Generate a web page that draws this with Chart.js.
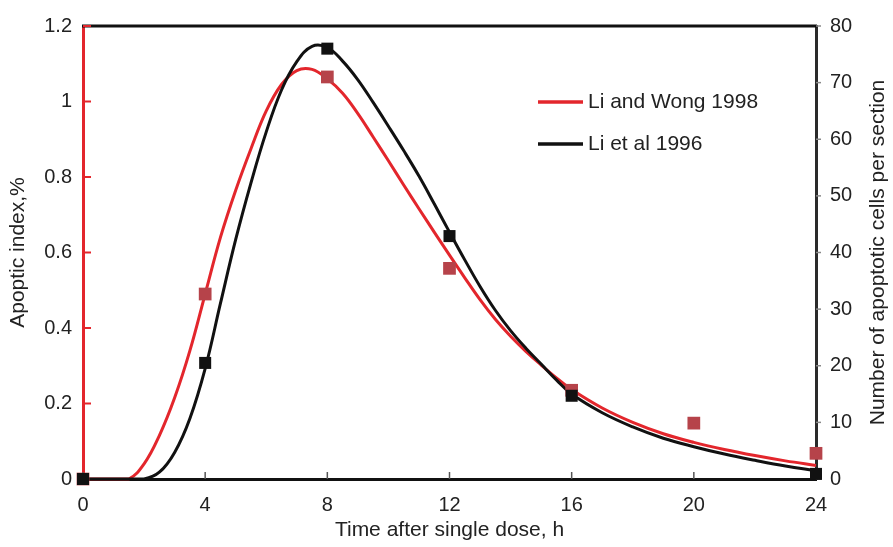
<!DOCTYPE html>
<html><head><meta charset="utf-8">
<script src="https://cdn.jsdelivr.net/npm/chart.js@4.4.1/dist/chart.umd.min.js"></script>
<style>html,body{margin:0;padding:0;background:#fff;}#wrap{width:893px;height:547px;position:relative;}</style>
</head><body><div id="wrap"><canvas id="c" width="893" height="547"></canvas></div>
<script>
// ---- data ----
const hourTicks = [0, 4, 8, 12, 16, 20, 24];
const indexTicks = [0, 0.2, 0.4, 0.6, 0.8, 1, 1.2];
const countTicks = [0, 10, 20, 30, 40, 50, 60, 70, 80];
const seriesNames = ['Li and Wong 1998', 'Li et al 1996'];
const axisTitles = ['Time after single dose, h', 'Apoptic index,%', 'Number of apoptotic cells per section'];

// measured points
const wongHours = [0, 4, 8, 12, 16, 20, 24];
const wongIndex = [0, 0.49, 1.065, 0.558, 0.235, 0.148, 0.068];
const li96Hours = [0, 4, 8, 12, 16, 24];
const li96Counts = [0, 20.5, 76, 42.9, 14.7, 0.9];

// fitted curves
const fitHours = [0, 0.5, 1, 1.5, 2, 2.5, 3, 3.5, 4, 4.5, 5, 5.5, 6, 6.5, 7, 7.5, 8, 8.5, 9, 9.5, 10, 10.5, 11, 11.5, 12, 12.5, 13, 13.5, 14, 14.5, 15, 15.5, 16, 17, 18, 19, 20, 21, 22, 23, 24];
const wongFitIndex = [0, 0, 0, 0, 0.04, 0.115, 0.215, 0.34, 0.49, 0.64, 0.765, 0.875, 0.975, 1.045, 1.082, 1.085, 1.06, 1.022, 0.968, 0.906, 0.843, 0.779, 0.716, 0.654, 0.593, 0.533, 0.475, 0.423, 0.378, 0.338, 0.302, 0.268, 0.237, 0.188, 0.15, 0.12, 0.097, 0.078, 0.062, 0.048, 0.036];
const li96FitCounts = [0, 0, 0, 0, 0, 1.2, 4.7, 10.7, 19.5, 31.0, 42.3, 52.3, 61.3, 68.7, 73.7, 76.4, 76.2, 73.8, 70.5, 66.5, 62.3, 58.0, 53.5, 48.6, 43.6, 38.7, 34.0, 29.8, 26.2, 23.1, 20.3, 17.5, 15.0, 11.7, 9.2, 7.2, 5.7, 4.4, 3.3, 2.3, 1.5];

const RED = '#e3262c';
const RED_PT = '#b6434a';
const BLACK = '#111111';
const TXT = '#222222';
const zip = (xs, ys) => xs.map((x, i) => ({x, y: ys[i]}));

const frame = {
  id: 'frame',
  beforeDatasetsDraw(chart) {
    const {ctx, chartArea: a, scales} = chart;
    ctx.save();
    ctx.strokeStyle = BLACK; ctx.lineWidth = 3;
    ctx.beginPath(); ctx.moveTo(a.left - 1, a.top); ctx.lineTo(a.right + 1, a.top); ctx.stroke();
    ctx.strokeStyle = RED; ctx.lineWidth = 2;
    indexTicks.forEach(v => { const y = scales.y.getPixelForValue(v);
      ctx.beginPath(); ctx.moveTo(a.left, y); ctx.lineTo(a.left + 8, y); ctx.stroke(); });
    ctx.strokeStyle = '#555'; ctx.lineWidth = 1.5;
    hourTicks.forEach(v => { const x = scales.x.getPixelForValue(v);
      ctx.beginPath(); ctx.moveTo(x, a.bottom); ctx.lineTo(x, a.bottom - 7); ctx.stroke(); });
    ctx.strokeStyle = '#888'; ctx.lineWidth = 1.5;
    countTicks.forEach(v => { const y = scales.y2.getPixelForValue(v);
      ctx.beginPath(); ctx.moveTo(a.right, y); ctx.lineTo(a.right + 5, y); ctx.stroke(); });
    ctx.fillStyle = TXT; ctx.font = '21px "Liberation Sans", Arial, sans-serif';
    ctx.translate(878, (a.top + a.bottom) / 2); ctx.rotate(-Math.PI / 2);
    ctx.textAlign = 'center'; ctx.textBaseline = 'middle';
    ctx.fillText(axisTitles[2], 0, 0);
    ctx.restore();
  },
  afterDatasetsDraw(chart) {
    const {ctx, chartArea: a} = chart;
    ctx.save();
    const rows = [{c: RED, y: a.top + 76, t: seriesNames[0]}, {c: BLACK, y: a.top + 118, t: seriesNames[1]}];
    ctx.font = '21px "Liberation Sans", Arial, sans-serif';
    ctx.textBaseline = 'middle'; ctx.textAlign = 'left';
    rows.forEach(r => {
      ctx.strokeStyle = r.c; ctx.lineWidth = 3.5;
      ctx.beginPath(); ctx.moveTo(a.left + 455, r.y); ctx.lineTo(a.left + 500, r.y); ctx.stroke();
      ctx.fillStyle = TXT; ctx.fillText(r.t, a.left + 505, r.y);
    });
    ctx.restore();
  }
};

const font20 = {family: '"Liberation Sans", Arial, sans-serif', size: 20};
const font21 = {family: '"Liberation Sans", Arial, sans-serif', size: 21};

new Chart(document.getElementById('c'), {
  type: 'scatter',
  data: {
    datasets: [
      {label: seriesNames[1] + ' data', data: zip(li96Hours, li96Counts), yAxisID: 'y2', pointStyle: 'rect',
       pointRadius: 8.5, pointBackgroundColor: BLACK, pointBorderWidth: 0, showLine: false, clip: false, order: 0},
      {label: seriesNames[0] + ' data', data: zip(wongHours, wongIndex), yAxisID: 'y', pointStyle: 'rect',
       pointRadius: 9, pointBackgroundColor: RED_PT, pointBorderWidth: 0, showLine: false, clip: false, order: 1},
      {label: seriesNames[1], data: zip(fitHours, li96FitCounts), yAxisID: 'y2', showLine: true,
       borderColor: BLACK, borderWidth: 3, pointRadius: 0, tension: 0.4, fill: false, clip: false, order: 2},
      {label: seriesNames[0], data: zip(fitHours, wongFitIndex), yAxisID: 'y', showLine: true,
       borderColor: RED, borderWidth: 3, pointRadius: 0, tension: 0.4, fill: false, clip: false, order: 3}
    ]
  },
  options: {
    responsive: false, animation: false, events: [],
    layout: {padding: {top: 14, left: 0, right: 0, bottom: 0}},
    plugins: {legend: {display: false}, tooltip: {enabled: false}},
    scales: {
      x: {
        type: 'linear', position: 'bottom', min: 0, max: 24,
        afterBuildTicks: s => { s.ticks = hourTicks.map(v => ({value: v})); },
        afterFit: s => { s.height = 68; },
        grid: {display: false, drawTicks: false},
        border: {display: true, color: BLACK, width: 3},
        ticks: {font: font20, color: TXT, padding: 14, maxRotation: 0, callback: v => String(v)},
        title: {display: true, text: axisTitles[0], font: font21, color: TXT, padding: {top: 0, bottom: 4}}
      },
      y: {
        type: 'linear', position: 'left', min: 0, max: 1.2,
        afterBuildTicks: s => { s.ticks = indexTicks.map(v => ({value: v})); },
        afterFit: s => { s.width = 83; },
        grid: {display: false, drawTicks: false},
        border: {display: true, color: RED, width: 3},
        ticks: {font: font20, color: TXT, padding: 11, callback: v => String(Number(v.toFixed(1)))},
        title: {display: true, text: axisTitles[1], font: font21, color: TXT, padding: {top: 6, bottom: 0}}
      },
      y2: {
        type: 'linear', position: 'right', min: 0, max: 80,
        afterBuildTicks: s => { s.ticks = countTicks.map(v => ({value: v})); },
        afterFit: s => { s.width = 77; },
        grid: {display: false, drawTicks: false},
        border: {display: true, color: '#2a2a2a', width: 3},
        ticks: {font: font20, color: TXT, padding: 14, callback: v => String(v)},
        title: {display: false}
      }
    }
  },
  plugins: [frame]
});
</script></body></html>
